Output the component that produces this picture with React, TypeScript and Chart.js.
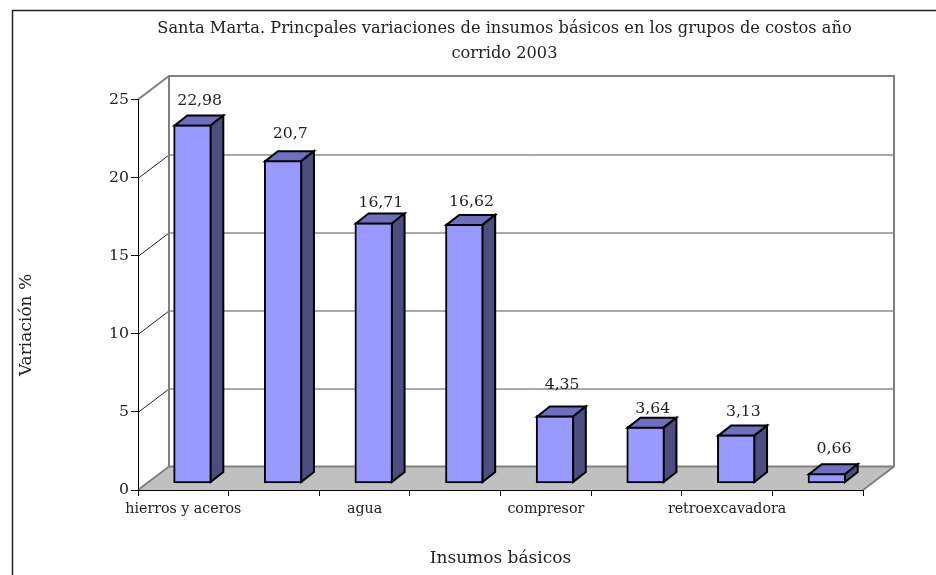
import React, { useEffect, useRef } from "react";
import { Chart, registerables } from "chart.js";

Chart.register(...registerables);

const categories = ["hierros y aceros", "", "agua", "", "compresor", "", "retroexcavadora", ""];
const values = [22.98, 20.7, 16.71, 16.62, 4.35, 3.64, 3.13, 0.66];
const valueLabels = ["22,98", "20,7", "16,71", "16,62", "4,35", "3,64", "3,13", "0,66"];
const titleLines = [
  "Santa Marta. Princpales variaciones de insumos básicos en los grupos de costos año",
  "corrido 2003",
];
const yTitle = "Variación %";
const xTitle = "Insumos básicos";
const yTicks = [0, 5, 10, 15, 20, 25];

// label gap above each bar's front top edge
const labelGaps = [24, 26, 20, 22, 31, 18, 23, 24];

const FONT = "'DejaVu Serif', serif";
const DEPTH_X = 31;
const DEPTH_Y = 23.5;
const BAR_DX = 9.3;
const BAR_DY = -6.5;
const SIDE_DX = 12.7;
const SIDE_DY = 10;
const TITLE_SHIFT = 73;

const poly = (ctx: CanvasRenderingContext2D, pts: number[][]) => {
  ctx.beginPath();
  pts.forEach((p, i) => (i ? ctx.lineTo(p[0], p[1]) : ctx.moveTo(p[0], p[1])));
  ctx.closePath();
};

const seg = (ctx: CanvasRenderingContext2D, x1: number, y1: number, x2: number, y2: number) => {
  ctx.beginPath();
  ctx.moveTo(x1, y1);
  ctx.lineTo(x2, y2);
  ctx.stroke();
};

const box3d = {
  id: "box3d",
  afterLayout(chart: any) {
    const block = chart.titleBlock;
    if (block) {
      block.left += TITLE_SHIFT;
      block.right += TITLE_SHIFT;
    }
  },
  beforeDraw(chart: any) {
    const { ctx, chartArea: a, scales } = chart;
    const y = scales.y;
    ctx.save();
    ctx.fillStyle = "#ffffff";
    ctx.fillRect(0, 0, chart.width, chart.height);
    // outer frame
    ctx.strokeStyle = "#222222";
    ctx.lineWidth = 1.5;
    ctx.beginPath();
    ctx.moveTo(12.5, chart.height);
    ctx.lineTo(12.5, 10.5);
    ctx.lineTo(chart.width, 10.5);
    ctx.stroke();
    // floor
    poly(ctx, [
      [a.left, a.bottom],
      [a.right, a.bottom],
      [a.right + DEPTH_X, a.bottom - DEPTH_Y],
      [a.left + DEPTH_X, a.bottom - DEPTH_Y],
    ]);
    ctx.fillStyle = "#c0c0c0";
    ctx.fill();
    // grid lines
    for (const t of yTicks) {
      if (t === 0 || t === 25) continue;
      const py = Math.round(y.getPixelForValue(t)) + 0.5;
      ctx.lineWidth = 1;
      ctx.strokeStyle = "#222222";
      seg(ctx, a.left, py, a.left + DEPTH_X, py - DEPTH_Y);
      ctx.strokeStyle = "#555555";
      seg(ctx, a.left + DEPTH_X, py - DEPTH_Y, a.right + DEPTH_X, py - DEPTH_Y);
    }
    // wall outlines
    ctx.strokeStyle = "#808080";
    ctx.lineWidth = 2;
    const l = a.left + DEPTH_X;
    const r = a.right + DEPTH_X;
    const t = a.top - DEPTH_Y;
    const b = a.bottom - DEPTH_Y;
    ctx.beginPath();
    ctx.moveTo(a.left, a.top);
    ctx.lineTo(l, t);
    ctx.lineTo(r, t);
    ctx.lineTo(r, b);
    ctx.lineTo(a.right, a.bottom);
    ctx.stroke();
    ctx.beginPath();
    ctx.moveTo(l, t);
    ctx.lineTo(l, b);
    ctx.lineTo(r, b);
    ctx.stroke();
    seg(ctx, a.left, a.bottom, l, b);
    ctx.restore();
  },
  beforeDatasetsDraw(chart: any) {
    chart.ctx.save();
    chart.ctx.translate(BAR_DX, BAR_DY);
  },
  afterDatasetsDraw(chart: any) {
    const ctx = chart.ctx;
    const bars = chart.getDatasetMeta(0).data;
    ctx.lineWidth = 2;
    ctx.lineJoin = "miter";
    ctx.strokeStyle = "#000000";
    bars.forEach((bar: any, i: number) => {
      const x0 = bar.x - bar.width / 2 + 1;
      const x1 = bar.x + bar.width / 2 - 1;
      const top = bar.y + 1;
      const bot = bar.base - 1;
      poly(ctx, [
        [x0, top],
        [x0 + SIDE_DX, top - SIDE_DY],
        [x1 + SIDE_DX, top - SIDE_DY],
        [x1, top],
      ]);
      ctx.fillStyle = "#6f6fc0";
      ctx.fill();
      ctx.stroke();
      poly(ctx, [
        [x1, top],
        [x1 + SIDE_DX, top - SIDE_DY],
        [x1 + SIDE_DX, bot - SIDE_DY],
        [x1, bot],
      ]);
      ctx.fillStyle = "#4d4d80";
      ctx.fill();
      ctx.stroke();
      ctx.fillStyle = "#222222";
      ctx.font = `15.7px ${FONT}`;
      ctx.textAlign = "center";
      ctx.textBaseline = "middle";
      ctx.fillText(valueLabels[i], bar.x + 7, bar.y - labelGaps[i]);
    });
    ctx.restore();
    // rotated y axis title
    ctx.save();
    ctx.translate(26.5, 325);
    ctx.rotate(-Math.PI / 2);
    ctx.fillStyle = "#222222";
    ctx.font = `17px ${FONT}`;
    ctx.textAlign = "center";
    ctx.textBaseline = "middle";
    ctx.fillText(yTitle, 0, 0);
    ctx.restore();
  },
};

export default function App() {
  const ref = useRef<HTMLCanvasElement>(null);
  useEffect(() => {
    const chart = new Chart(ref.current!, {
      type: "bar",
      data: {
        labels: categories,
        datasets: [
          {
            data: values,
            backgroundColor: "#9999ff",
            borderColor: "#000000",
            borderWidth: 2,
            borderSkipped: false,
            barThickness: 38,
            clip: false,
          } as any,
        ],
      },
      options: {
        responsive: false,
        animation: false,
        layout: { padding: { left: 0, right: 73, top: 0, bottom: 0 } },
        plugins: {
          legend: { display: false },
          tooltip: { enabled: false },
          title: {
            display: true,
            text: titleLines,
            color: "#222222",
            font: { family: FONT, size: 16.2, weight: "normal", lineHeight: 1.543 },
            padding: { top: 16.5, bottom: 33 },
          },
        },
        scales: {
          x: {
            afterFit: (s: any) => {
              s.height = 85;
            },
            border: { color: "#000000", width: 1 },
            grid: { drawOnChartArea: false, color: "#000000", tickLength: 6, offset: true },
            title: {
              display: true,
              text: xTitle,
              color: "#222222",
              font: { family: FONT, size: 17 },
              padding: { top: 0, bottom: 6 },
            },
            ticks: {
              color: "#222222",
              font: { family: FONT, size: 14.2 },
              autoSkip: false,
              maxRotation: 0,
              padding: 5,
            },
          },
          y: {
            min: 0,
            max: 25,
            afterFit: (s: any) => {
              s.width = 138;
            },
            border: { color: "#000000", width: 1 },
            grid: { drawOnChartArea: false, color: "#000000", tickLength: 7 },
            ticks: {
              color: "#222222",
              font: { family: FONT, size: 15.7 },
              stepSize: 5,
              padding: 2,
            },
          },
        },
      },
      plugins: [box3d],
    } as any);
    return () => chart.destroy();
  }, []);
  return (
    <div style={{ position: "absolute", left: 0, top: 0, width: 936, height: 575 }}>
      <canvas ref={ref} width={936} height={575} style={{ display: "block" }} />
    </div>
  );
}
